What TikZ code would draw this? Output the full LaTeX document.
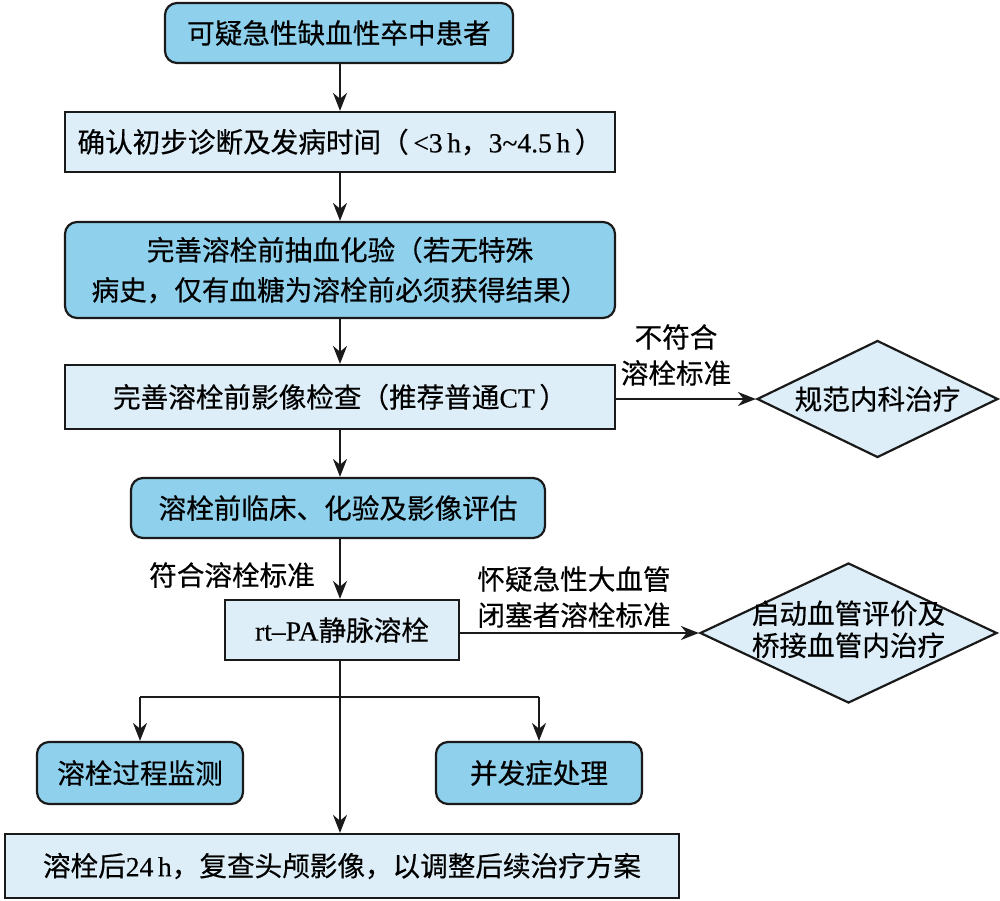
\documentclass[tikz,border=0pt]{standalone}
\usepackage{fontspec}
\setmainfont{Liberation Serif}[FakeBold=0.3]
\newfontfamily\cjkfont{Noto Sans CJK SC}[FakeBold=0.4]
\newcommand{\C}[1]{{\cjkfont #1}}
\usetikzlibrary{shapes.geometric,arrows.meta}
\definecolor{bluefill}{HTML}{8FD0EC}
\definecolor{lightfill}{HTML}{DDEEF8}
\definecolor{edge}{HTML}{1A1A1A}
\begin{document}
\begin{tikzpicture}[x=0.5pt,y=-0.5pt,
  font=\fontsize{13.8}{17}\selectfont,
  blk/.style={draw=edge, line width=1.1pt, rounded corners=6pt, fill=bluefill, align=center, inner sep=0pt},
  lbox/.style={draw=edge, line width=1.1pt, fill=lightfill, align=center, inner sep=0pt},
  dia/.style={diamond, draw=edge, line width=1.1pt, fill=lightfill, inner sep=0pt},
  lbl/.style={align=center, inner sep=0pt},
  arr/.style={-{Stealth[length=9pt,width=7pt]}, line width=1.1pt, draw=edge},
  ln/.style={line width=1.1pt, draw=edge}]
\useasboundingbox (0,0) rectangle (1000,900);
\fill[white] (0,0) rectangle (1000,900);

\node[blk, minimum width=174pt, minimum height=30pt] (b1) at (339,33) {\C{可疑急性缺血性卒中患者}};
\node[lbox, minimum width=275pt, minimum height=30pt] (b2) at (340,142) {\C{确认初步诊断及发病时间（}\,<3\,h\C{，}3\textasciitilde4.5\,h\,\C{）}};
\node[blk, minimum width=275pt, minimum height=48pt] (b3) at (340,270) {\C{完善溶栓前抽血化验（若无特殊}\\[3pt]\C{病史，仅有血糖为溶栓前必须获得结果）}};
\node[lbox, minimum width=275pt, minimum height=32pt] (b4) at (340,397) {\C{完善溶栓前影像检查（推荐普通}CT\,\C{）}};
\node[dia, minimum width=120.5pt, minimum height=58.5pt] (d1) at (877.5,399) {\makebox[0pt]{\C{规范内科治疗}}};
\node[blk, minimum width=207pt, minimum height=30pt] (b5) at (338,508) {\C{溶栓前临床、化验及影像评估}};
\node[lbox, minimum width=117pt, minimum height=30pt] (b6) at (342,630) {rt–PA\C{静脉溶栓}};
\node[dia, minimum width=148.5pt, minimum height=70pt] (d2) at (848.5,633) {\makebox[0pt]{\begin{tabular}{@{}c@{}}\C{启动血管评价及}\\[-1pt]\C{桥接血管内治疗}\end{tabular}}};
\node[blk, minimum width=103pt, minimum height=31pt] (b7) at (140,773) {\C{溶栓过程监测}};
\node[blk, minimum width=103pt, minimum height=31pt] (b8) at (539,773) {\C{并发症处理}};
\node[lbox, minimum width=337pt, minimum height=32pt] (b9) at (342,866) {\C{溶栓后}24\,h\C{，复查头颅影像，以调整后续治疗方案}};

\draw[arr] (b1.south -| 340,0) -- (b2.north -| 340,0);
\draw[arr] (b2.south -| 340,0) -- (b3.north -| 340,0);
\draw[arr] (b3.south -| 340,0) -- (b4.north -| 340,0);
\draw[arr] (b4.south -| 340,0) -- (b5.north -| 340,0);
\draw[arr] (b5.south -| 340,0) -- (b6.north -| 340,0);
\draw[arr] (b6.south -| 340,0) -- (b9.north -| 340,0);
\draw[arr] (b4.east |- d1.west) -- (d1.west);
\draw[arr] (b6.east |- d2.west) -- (d2.west);

\coordinate (br) at (340,697);
\draw[ln] (br -| b7.north) -- (br -| b8.north);
\draw[arr] (br -| b7.north) -- (b7.north);
\draw[arr] (br -| b8.north) -- (b8.north);

\node[lbl] (l1) at (676,355) {\C{不符合}\\[1pt]\C{溶栓标准}};
\node[lbl] (l2) at (232,575) {\C{符合溶栓标准}};
\node[lbl] (l3) at (574,597) {\C{怀疑急性大血管}\\[1pt]\C{闭塞者溶栓标准}};
\end{tikzpicture}
\end{document}
